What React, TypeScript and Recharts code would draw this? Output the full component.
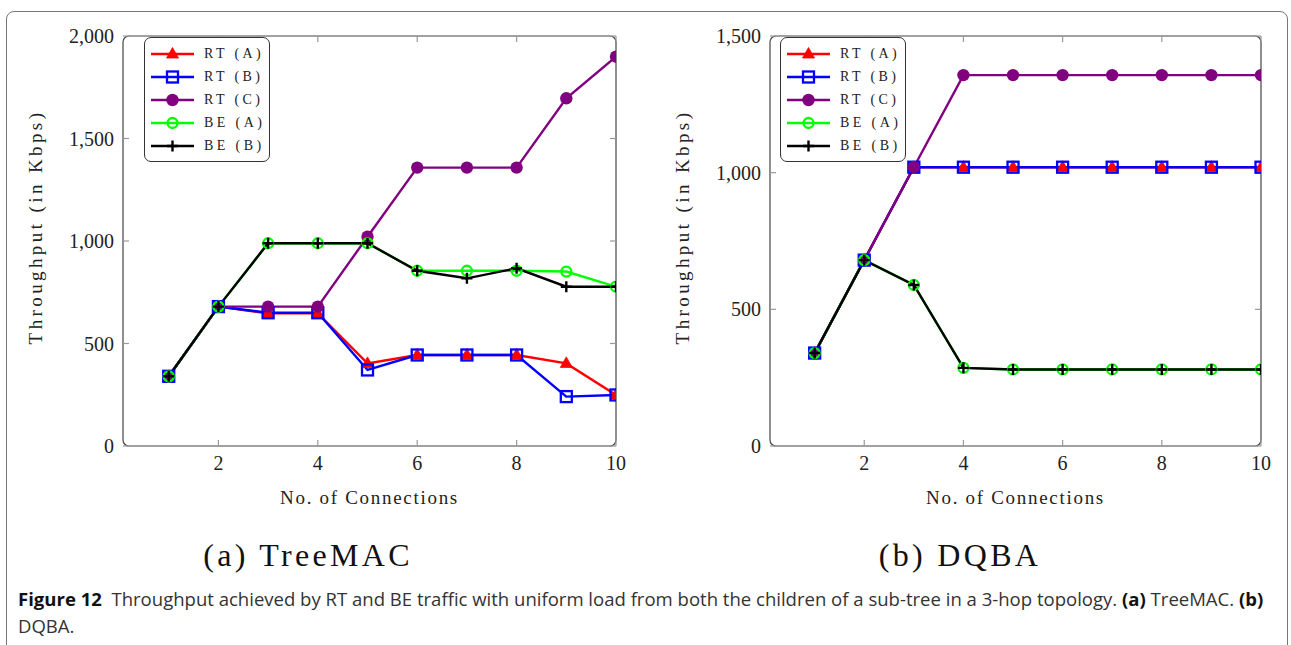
import React from 'react';
import { LineChart, Line, XAxis, YAxis, Legend, ReferenceArea, Label } from 'recharts';

// ---------- data ----------
const connections = [1, 2, 3, 4, 5, 6, 7, 8, 9, 10];
const xTicks = [2, 4, 6, 8, 10];

const seriesKeys = ['rtA', 'rtB', 'rtC', 'beA', 'beB'];
const seriesNames = ['RT (A)', 'RT (B)', 'RT (C)', 'BE (A)', 'BE (B)'];
const seriesColors = ['#ff0000', '#0000ff', '#800080', '#00ff00', '#000000'];
const seriesMarkers = ['triangle', 'square', 'disc', 'ring', 'plus'];

// (a) TreeMAC
const treeRtA = [340, 680, 647, 647, 403, 444, 444, 444, 403, 249];
const treeRtB = [340, 680, 650, 650, 371, 444, 444, 444, 241, 249];
const treeRtC = [338, 680, 680, 680, 1021, 1358, 1358, 1358, 1696, 1899];
const treeBeA = [340, 680, 989, 989, 989, 855, 855, 855, 851, 777];
const treeBeB = [340, 680, 989, 989, 989, 855, 818, 867, 777, 777];
const treeYTicks = [0, 500, 1000, 1500, 2000];

// (b) DQBA
const dqbaRtA = [340, 680, 1020, 1020, 1020, 1020, 1020, 1020, 1020, 1020];
const dqbaRtB = [340, 680, 1020, 1020, 1020, 1020, 1020, 1020, 1020, 1020];
const dqbaRtC = [339, 680, 1020, 1357, 1357, 1357, 1357, 1357, 1357, 1357];
const dqbaBeA = [340, 680, 589, 286, 280, 280, 280, 280, 280, 280];
const dqbaBeB = [340, 680, 589, 286, 280, 280, 280, 280, 280, 280];
const dqbaYTicks = [0, 500, 1000, 1500];

const buildRows = (cols: number[][]) =>
  connections.map((x, i) => {
    const row: Record<string, number> = { x };
    seriesKeys.forEach((k, j) => {
      row[k] = cols[j][i];
    });
    return row;
  });

const treeData = buildRows([treeRtA, treeRtB, treeRtC, treeBeA, treeBeB]);
const dqbaData = buildRows([dqbaRtA, dqbaRtB, dqbaRtC, dqbaBeA, dqbaBeB]);

// ---------- styling ----------
const SERIF = '"Liberation Serif", "DejaVu Serif", serif';
const SANS = '"Open Sans", "Noto Sans", sans-serif';
const TICK_COLOR = '#222';

function Marker({ kind, cx, cy, color }: { kind: string; cx: number; cy: number; color: string }) {
  if (cx == null || cy == null || isNaN(cx) || isNaN(cy)) return <g />;
  switch (kind) {
    case 'triangle':
      return (
        <polygon
          points={`${cx},${cy - 6.5} ${cx - 6},${cy + 4} ${cx + 6},${cy + 4}`}
          fill={color}
          stroke={color}
          strokeWidth={0.8}
        />
      );
    case 'square':
      return <rect x={cx - 5.5} y={cy - 5.5} width={11} height={11} fill="none" stroke={color} strokeWidth={2.3} />;
    case 'disc':
      return <circle cx={cx} cy={cy} r={6.2} fill={color} />;
    case 'ring':
      return <circle cx={cx} cy={cy} r={5} fill="none" stroke={color} strokeWidth={2.3} />;
    case 'plus':
      return (
        <path
          d={`M${cx - 5.5},${cy}H${cx + 5.5}M${cx},${cy - 5.5}V${cy + 5.5}`}
          stroke={color}
          strokeWidth={2.4}
          fill="none"
        />
      );
    default:
      return <g />;
  }
}

function LegendBox(props: any) {
  const payload = ((props.payload || []) as any[])
    .slice()
    .sort((a, b) => seriesKeys.indexOf(a.dataKey) - seriesKeys.indexOf(b.dataKey));
  return (
    <div
      style={{
        width: 126,
        height: 125,
        border: '1px solid #333',
        borderRadius: 7,
        background: '#fff',
        boxSizing: 'border-box',
        paddingTop: 4,
      }}
    >
      {payload.map((entry: any) => {
        const idx = seriesKeys.indexOf(entry.dataKey);
        return (
          <div key={entry.dataKey} style={{ display: 'flex', alignItems: 'center', height: 23 }}>
            <svg width={56} height={20} style={{ display: 'block', marginLeft: 2, flex: 'none' }}>
              <line x1={4} y1={10} x2={47} y2={10} stroke={seriesColors[idx]} strokeWidth={2.4} />
              <Marker kind={seriesMarkers[idx]} cx={25.5} cy={10} color={seriesColors[idx]} />
            </svg>
            <span
              style={{
                fontFamily: SERIF,
                fontSize: 14,
                letterSpacing: '3.4px',
                color: '#222',
                whiteSpace: 'nowrap',
                marginLeft: 1,
                lineHeight: '20px',
              }}
            >
              {seriesNames[idx]}
            </span>
          </div>
        );
      })}
    </div>
  );
}

type PanelProps = {
  data: Record<string, number>[];
  yMax: number;
  yTicks: number[];
  xMin: number;
  width: number;
  yAxisWidth: number;
  rightMargin: number;
  legendLeft: number;
};

function Panel({ data, yMax, yTicks, xMin, width, yAxisWidth, rightMargin, legendLeft }: PanelProps) {
  const tickStyle = { fill: TICK_COLOR, fontSize: 20, fontFamily: SERIF };
  return (
    <LineChart
      width={width}
      height={520}
      data={data}
      margin={{ top: 35, right: rightMargin, bottom: 14, left: 0 }}
    >
      <ReferenceArea
        xAxisId="b"
        yAxisId="l"
        x1={xMin}
        x2={10}
        y1={0}
        y2={yMax}
        ifOverflow="visible"
        shape={(p: any) => (
          <rect x={p.x} y={p.y} width={p.width} height={p.height} rx={6} ry={6} fill="none" stroke="#444" strokeWidth={1.2} />
        )}
      />
      <XAxis
        xAxisId="b"
        dataKey="x"
        type="number"
        domain={[xMin, 10]}
        ticks={xTicks}
        allowDataOverflow
        axisLine={false}
        tickSize={-6}
        tickMargin={16}
        tickLine={{ stroke: '#999', strokeWidth: 1.2 }}
        tick={tickStyle}
        height={60}
      >
        <Label
          content={(lp: any) => {
            const vb = lp.viewBox || {};
            return (
              <text
                x={vb.x + vb.width / 2}
                y={vb.y + 58}
                textAnchor="middle"
                fontFamily={SERIF}
                fontSize={19}
                letterSpacing={1.7}
                fill={TICK_COLOR}
              >
                No. of Connections
              </text>
            );
          }}
        />
      </XAxis>
      <XAxis
        xAxisId="t"
        orientation="top"
        dataKey="x"
        type="number"
        domain={[xMin, 10]}
        ticks={xTicks}
        allowDataOverflow
        axisLine={false}
        tickSize={-6}
        tickLine={{ stroke: '#999', strokeWidth: 1.2 }}
        tick={() => <g />}
        height={1}
      />
      <YAxis
        yAxisId="l"
        type="number"
        domain={[0, yMax]}
        ticks={yTicks}
        allowDataOverflow
        axisLine={false}
        tickSize={-6}
        tickMargin={15}
        tickLine={{ stroke: '#999', strokeWidth: 1.2 }}
        tick={tickStyle}
        tickFormatter={(v: number) => v.toLocaleString('en-US')}
        width={yAxisWidth}
      >
        <Label
          content={(lp: any) => {
            const vb = lp.viewBox || {};
            const cx = vb.x + vb.width - 88;
            const cy = vb.y + vb.height / 2 - 14;
            return (
              <text
                transform={`translate(${cx},${cy}) rotate(-90)`}
                textAnchor="middle"
                dominantBaseline="central"
                fontFamily={SERIF}
                fontSize={19}
                letterSpacing={3.4}
                fill={TICK_COLOR}
              >
                Throughput (in Kbps)
              </text>
            );
          }}
        />
      </YAxis>
      <YAxis
        yAxisId="r"
        orientation="right"
        type="number"
        domain={[0, yMax]}
        ticks={yTicks}
        allowDataOverflow
        axisLine={false}
        tickSize={-6}
        tickLine={{ stroke: '#999', strokeWidth: 1.2 }}
        tick={() => <g />}
        width={1}
      />
      {seriesKeys.map((k, i) => (
        <Line
          key={k}
          xAxisId="b"
          yAxisId="l"
          type="linear"
          dataKey={k}
          name={seriesNames[i]}
          stroke={seriesColors[i]}
          strokeWidth={2.4}
          isAnimationActive={false}
          dot={(p: any) => (
            <Marker key={`${k}-${p.index}`} kind={seriesMarkers[i]} cx={p.cx} cy={p.cy} color={seriesColors[i]} />
          )}
          activeDot={false}
        />
      ))}
      <Legend
        layout="vertical"
        align="center"
        verticalAlign="middle"
        itemSorter={null as any}
        wrapperStyle={{ left: legendLeft, top: 37, width: 126, height: 125 }}
        content={(lp: any) => <LegendBox {...lp} />}
      />
    </LineChart>
  );
}

export default function App() {
  return (
    <div
      style={{
        position: 'absolute',
        left: 0,
        top: 0,
        width: 1291,
        height: 645,
        overflow: 'hidden',
        background: '#fff',
      }}
    >
      <div
        style={{
          position: 'absolute',
          left: 6,
          top: 11,
          width: 1282,
          height: 700,
          border: '1px solid #777',
          borderRadius: 8,
          boxSizing: 'border-box',
        }}
      />
      <div style={{ position: 'absolute', left: 0, top: 0 }}>
        <Panel
          data={treeData}
          yMax={2000}
          yTicks={treeYTicks}
          xMin={0.08}
          width={645}
          yAxisWidth={123}
          rightMargin={28}
          legendLeft={144}
        />
      </div>
      <div style={{ position: 'absolute', left: 645, top: 0 }}>
        <Panel
          data={dqbaData}
          yMax={1500}
          yTicks={dqbaYTicks}
          xMin={0.1}
          width={646}
          yAxisWidth={125}
          rightMargin={29}
          legendLeft={135}
        />
      </div>
      <div
        style={{
          position: 'absolute',
          left: 108,
          top: 537,
          width: 400,
          textAlign: 'center',
          fontFamily: SERIF,
          fontSize: 32,
          letterSpacing: 3.3,
          color: '#111',
        }}
      >
        (a) TreeMAC
      </div>
      <div
        style={{
          position: 'absolute',
          left: 760,
          top: 537,
          width: 400,
          textAlign: 'center',
          fontFamily: SERIF,
          fontSize: 32,
          letterSpacing: 3.3,
          color: '#111',
        }}
      >
        (b) DQBA
      </div>
      <div
        style={{
          position: 'absolute',
          left: 18,
          top: 585,
          width: 1268,
          fontFamily: SANS,
          fontSize: 18.55,
          lineHeight: '27px',
          color: '#333',
        }}
      >
        <div style={{ whiteSpace: 'nowrap' }}>
          <b style={{ color: '#111' }}>Figure 12</b>
          {'\u00a0\u00a0Throughput achieved by RT and BE traffic with uniform load from both the children of a sub-tree in a 3-hop topology. '}
          <b style={{ color: '#111' }}>(a)</b>
          {' TreeMAC. '}
          <b style={{ color: '#111' }}>(b)</b>
        </div>
        <div>DQBA.</div>
      </div>
    </div>
  );
}
